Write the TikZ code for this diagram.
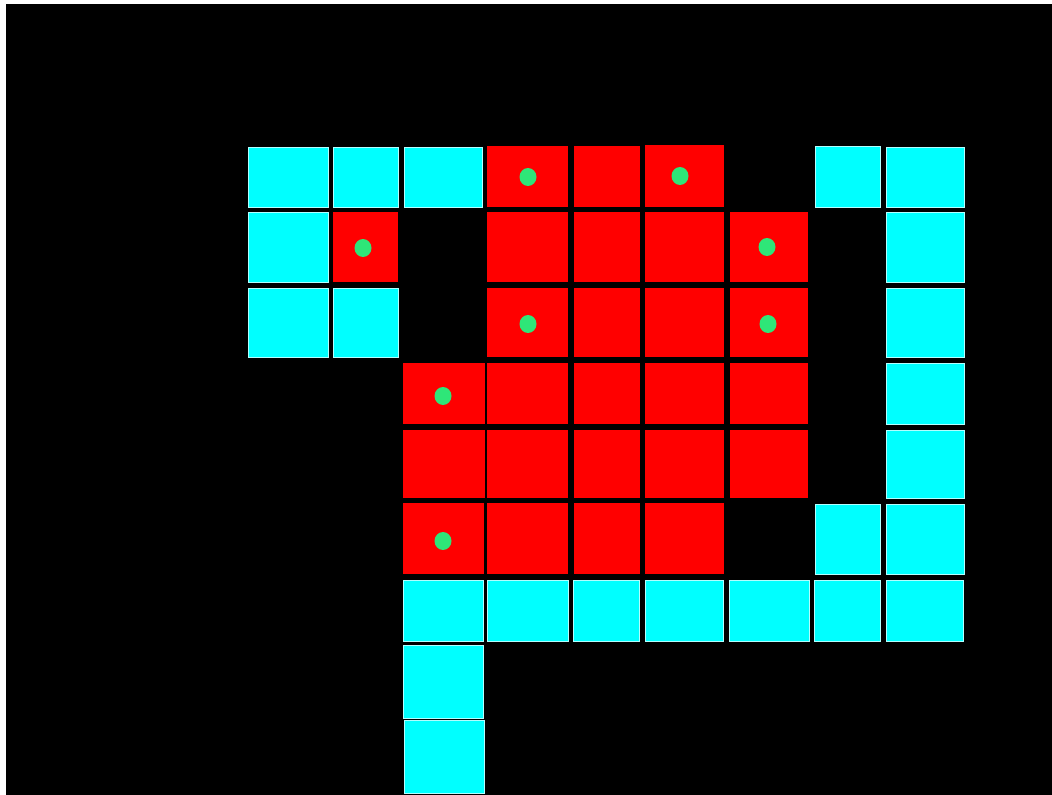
\documentclass[tikz,border=0pt]{standalone}
\definecolor{cellcyan}{RGB}{0,255,255}
\definecolor{cellred}{RGB}{255,0,0}
\definecolor{dotgreen}{RGB}{46,230,120}
\begin{document}
\begin{tikzpicture}[x=0.75pt,y=-0.75pt,
  cyancell/.style={fill=cellcyan,draw=white!70!cellcyan,line width=0.4pt},
  redcell/.style={fill=cellred},
  greendot/.style={fill=dotgreen}]
\useasboundingbox (0,0) rectangle (1052,795);
\fill[white] (0,0) rectangle (1052,795);
\fill[black] (6,4) rectangle (1052,795);
% columns: A 248-328, B 333-398, C 404-483, D 487-568, E 574-640, F 645-724, G 730-808, H 815-880, I 886-964
% rows: 1 147-207, 2 212-282, 3 288-357, 4 363-424, 5 430-498, 6 503-574, 7 580-641, 8 645-718, 9 720-795
% cyan cells
\foreach \xa/\xb/\ya/\yb in {
  248/328/147/207, 333/398/147/207, 404/482/147/207, 815/880/146/207, 886/964/147/207,
  248/328/212/282, 886/964/212/282,
  248/328/288/357, 333/398/288/357, 886/964/288/357,
  886/964/363/424,
  886/964/430/498,
  815/880/504/574, 886/964/504/574,
  403/483/580/641, 487/568/580/641, 573/639/580/641, 645/723/580/641, 729/809/580/641, 814/880/580/641, 886/963/580/641,
  403/483/645/718,
  404/484/720/793}
  \path[cyancell] (\xa,\ya) rectangle (\xb,\yb);
% red cells
\foreach \xa/\xb/\ya/\yb in {
  487/568/146/207, 574/640/146/207, 645/724/145/207,
  333/398/212/282, 487/568/212/282, 574/640/212/282, 645/724/212/282, 730/808/212/282,
  487/568/288/357, 574/640/288/357, 645/724/288/357, 730/808/288/357,
  403/485/363/424, 487/568/363/424, 574/640/363/424, 645/724/363/424, 730/808/363/424,
  403/485/430/498, 487/568/430/498, 574/640/430/498, 645/724/430/498, 730/808/430/498,
  403/484/503/574, 487/568/503/574, 574/640/503/574, 645/724/503/574}
  \path[redcell] (\xa,\ya) rectangle (\xb,\yb);
% green dots
\foreach \cx/\cy in {528/177, 680/176, 363/248, 767/247, 528/324, 768/324, 443/396, 443/541}
  \path[greendot] (\cx,\cy) ellipse [x radius=8.5, y radius=9];
\end{tikzpicture}
\end{document}
